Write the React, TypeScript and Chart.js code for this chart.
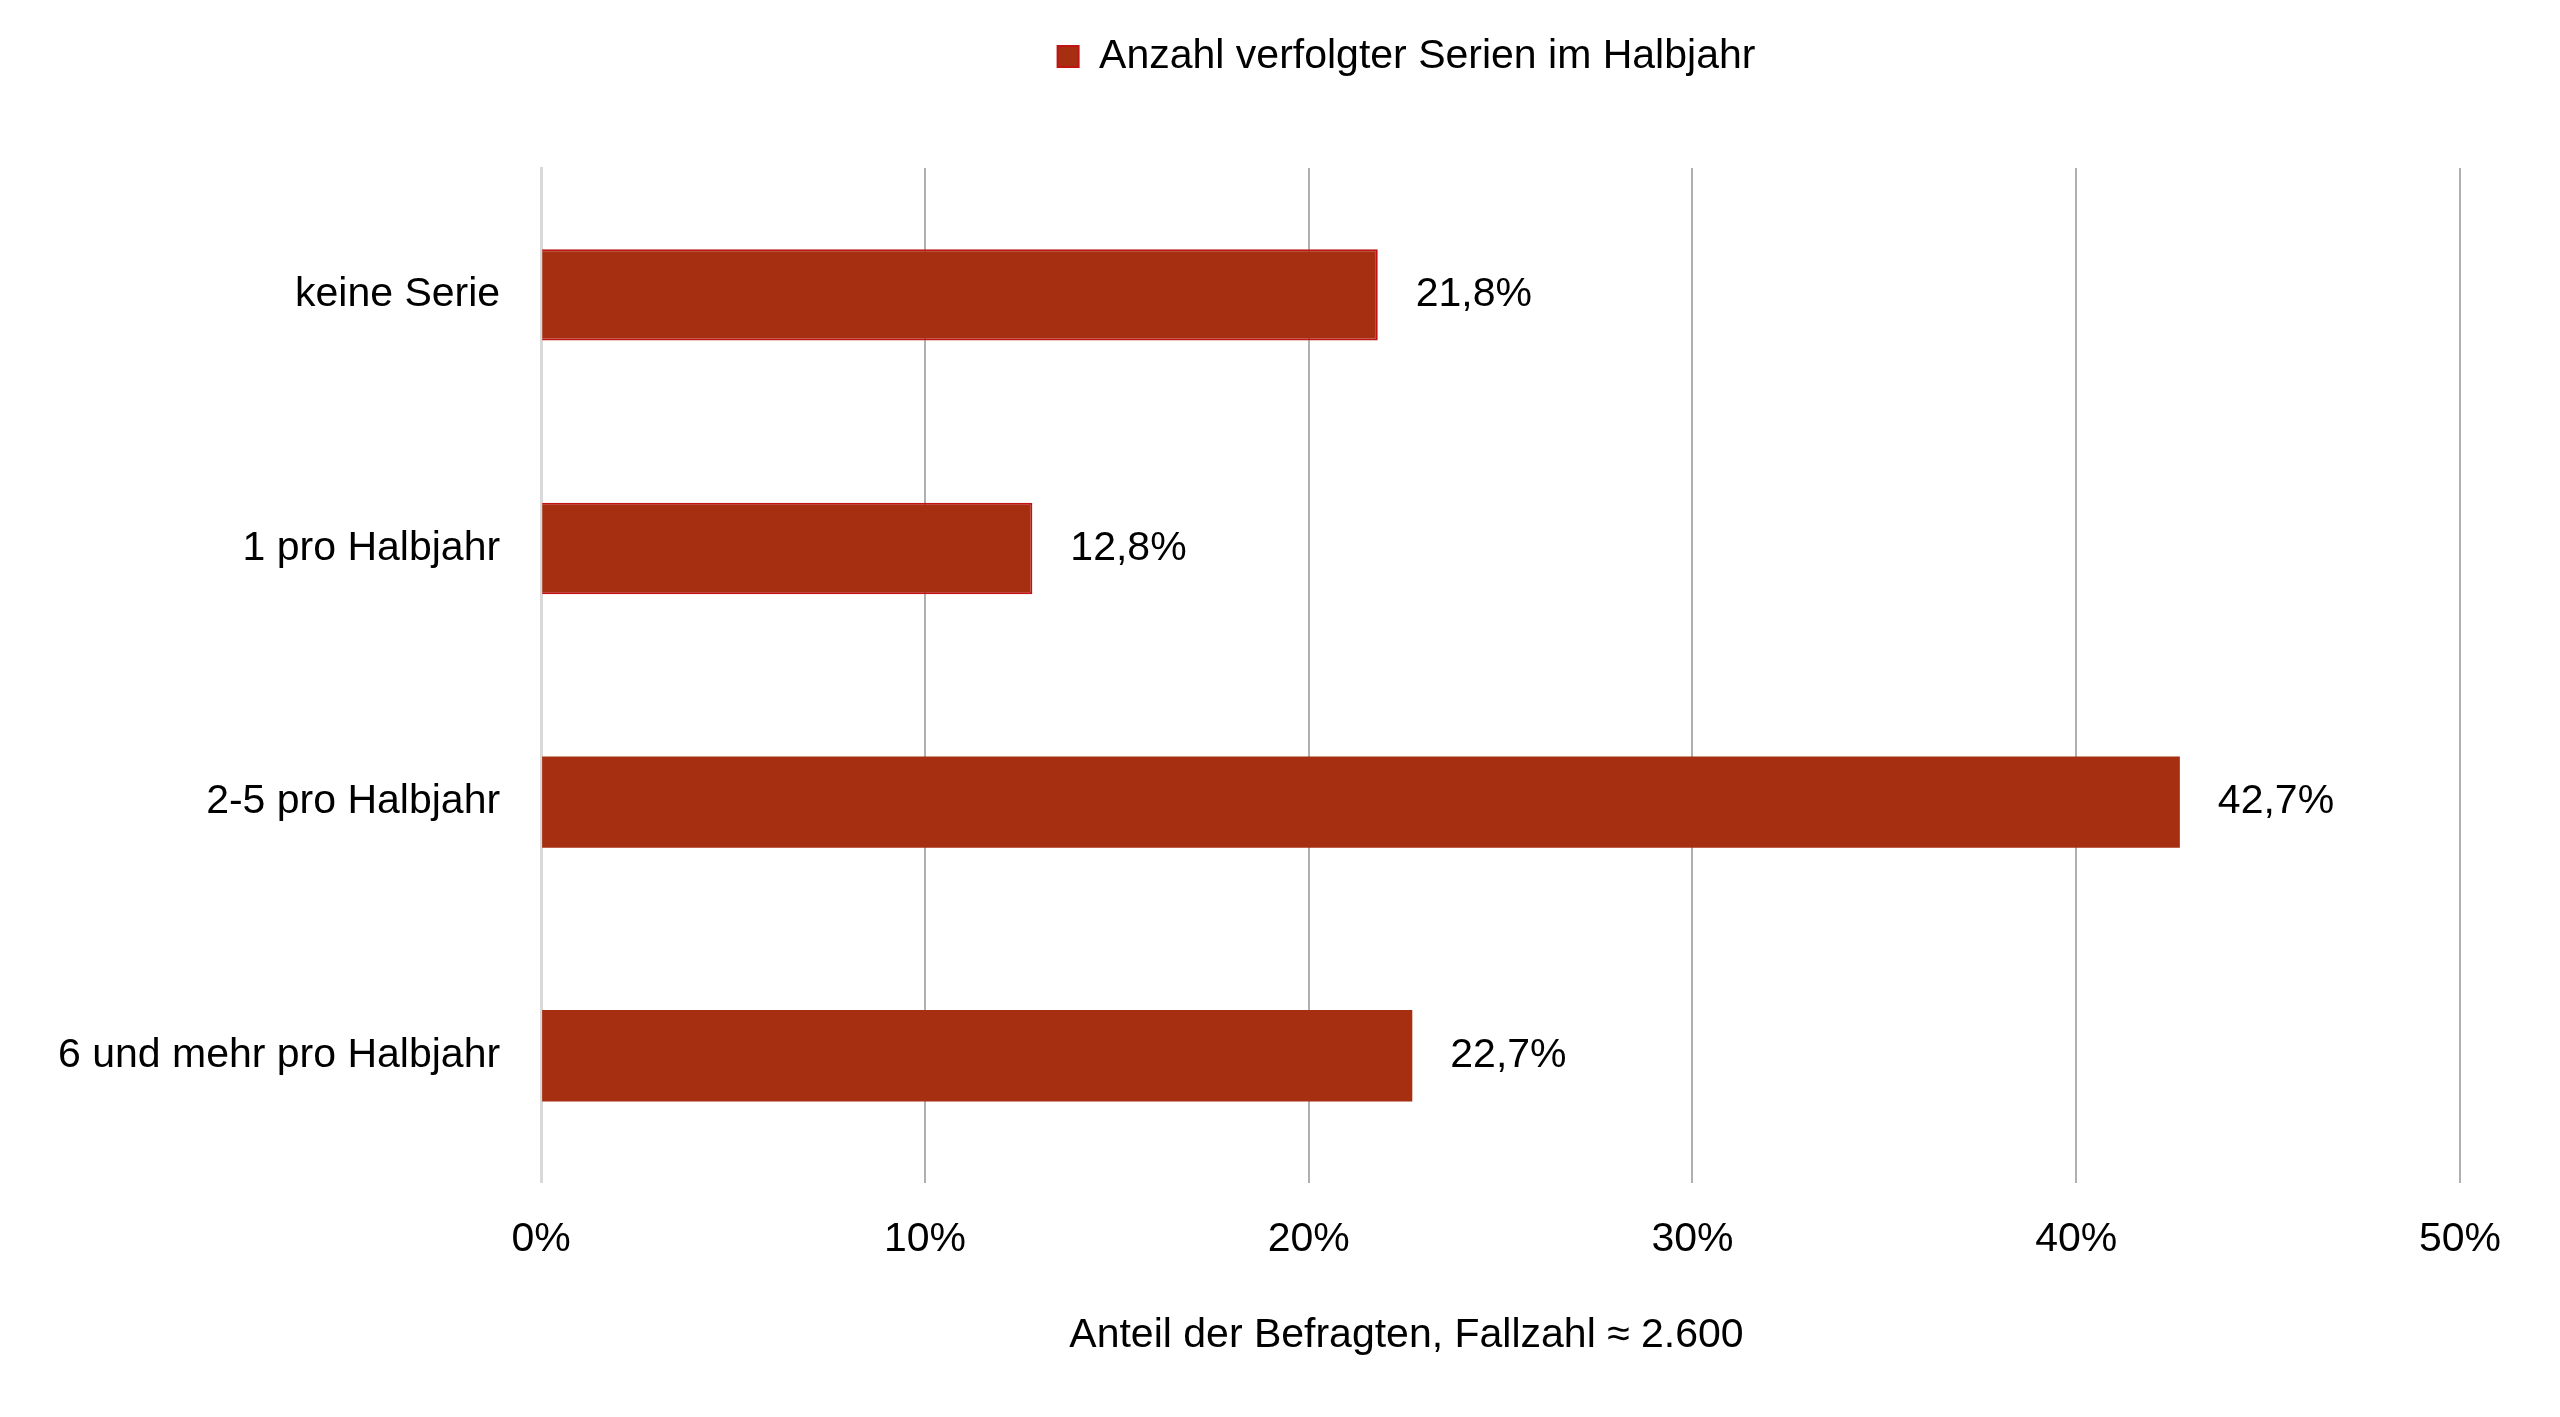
import { useEffect, useRef } from 'react';
import { Chart, registerables } from 'chart.js';

Chart.register(...registerables);

const FONT = "'Liberation Sans', Arial, sans-serif";

const categories = ['keine Serie', '1 pro Halbjahr', '2-5 pro Halbjahr', '6 und mehr pro Halbjahr'];
const shares = [21.8, 12.8, 42.7, 22.7];
const xTicks = [0, 10, 20, 30, 40, 50];
const seriesLabel = 'Anzahl verfolgter Serien im Halbjahr';
const axisLabel = 'Anteil der Befragten, Fallzahl \u2248 2.600';

const formatPct = (v: number) => v.toFixed(1).replace('.', ',') + '%';

// draws "21,8%" etc. just right of each bar end
const valueLabels = {
    id: 'valueLabels',
    afterDatasetsDraw(chart: any) {
        const { ctx } = chart;
        const meta = chart.getDatasetMeta(0);
        ctx.save();
        ctx.font = `41px ${FONT}`;
        ctx.fillStyle = '#000000';
        ctx.textAlign = 'left';
        ctx.textBaseline = 'middle';
        meta.data.forEach((bar: any, i: number) => {
            ctx.fillText(formatPct(shares[i]), bar.x + 38, bar.y);
        });
        ctx.restore();
    },
};

// extra room between legend and plot area
const legendGap = {
    id: 'legendGap',
    beforeLayout(chart: any) {
        const legend = chart.legend;
        if (!legend || legend._gapPatched) return;
        const fit = legend.fit;
        legend.fit = function () {
            fit.call(this);
            this.height += 81;
        };
        legend._gapPatched = true;
    },
};

// legend and bottom caption sit right of the canvas centre in the original
const centreShift = {
    id: 'centreShift',
    afterLayout(chart: any) {
        for (const box of [chart.legend, chart.titleBlock]) {
            if (!box) continue;
            box.left += 168;
            box.right += 168;
        }
    },
};

const SeriesChart = () => {
    const chartRef = useRef<HTMLCanvasElement>(null);

    useEffect(() => {
        const canvas = chartRef.current;
        if (!canvas) return;

        const chart = new Chart(canvas, {
            type: 'bar',
            data: {
                labels: categories,
                datasets: [
                    {
                        label: seriesLabel,
                        data: shares,
                        backgroundColor: '#a52f10',
                        borderColor: '#c01414',
                        borderWidth: (c: any) => (c.dataIndex !== undefined && c.dataIndex < 2 ? 2 : 0),
                        barPercentage: 0.36,
                        categoryPercentage: 1,
                    },
                ],
            },
            options: {
                indexAxis: 'y',
                responsive: true,
                maintainAspectRatio: false,
                animation: false,
                layout: {
                    padding: { top: 18, left: 9, right: 92, bottom: 39 },
                },
                plugins: {
                    tooltip: { enabled: false },
                    legend: {
                        display: true,
                        position: 'top',
                        labels: {
                            boxWidth: 21,
                            boxHeight: 21,
                            padding: 10,
                            color: '#000000',
                            font: { family: FONT, size: 41 },
                        },
                    },
                    title: {
                        display: true,
                        position: 'bottom',
                        text: axisLabel,
                        color: '#000000',
                        font: { family: FONT, size: 41, weight: 'normal' },
                        padding: { top: 15, bottom: 10 },
                    },
                },
                scales: {
                    x: {
                        type: 'linear',
                        min: xTicks[0],
                        max: xTicks[xTicks.length - 1],
                        afterBuildTicks: (scale: any) => {
                            scale.ticks = xTicks.map((v) => ({ value: v }));
                        },
                        ticks: {
                            callback: (v: any) => `${v}%`,
                            color: '#000000',
                            font: { family: FONT, size: 41 },
                            padding: 32,
                            maxRotation: 0,
                        },
                        grid: {
                            color: (c: any) => (c.tick && c.tick.value === 0 ? 'rgba(0,0,0,0)' : '#b0b0b0'),
                            lineWidth: 2,
                            drawTicks: false,
                        },
                        border: { display: false },
                    },
                    y: {
                        type: 'category',
                        ticks: {
                            color: '#000000',
                            font: { family: FONT, size: 41 },
                            padding: 41,
                        },
                        grid: { display: false, drawTicks: false },
                        border: { display: true, color: '#d9d9d9', width: 3 },
                    },
                },
            },
            plugins: [valueLabels, legendGap, centreShift],
        });

        return () => {
            chart.destroy();
        };
    }, []);

    return (
        <div style={{ position: 'relative', width: '2544px', height: '1401px' }}>
            <canvas ref={chartRef}></canvas>
        </div>
    );
};

export default function App() {
    return <SeriesChart />;
}
